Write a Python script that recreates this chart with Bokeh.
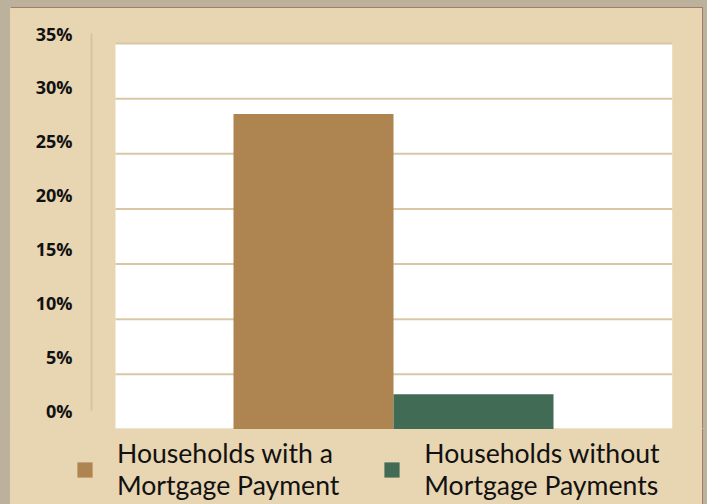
from bokeh.plotting import figure
from bokeh.models import (Range1d, LinearAxis, FixedTicker, Legend, LegendItem,
                          ColumnDataSource)
from bokeh.layouts import column
from bokeh.embed import file_html
from bokeh.resources import INLINE

# ---- data ----
categories = ["Households with a\nMortgage Payment",
              "Households without\nMortgage Payments"]
values = [28.6, 3.2]
colors = ["#AE8450", "#426B55"]
tick_values = [0, 5, 10, 15, 20, 25, 30, 35]
tick_labels = ["0%", "5%", "10%", "15%", "20%", "25%", "30%", "35%"]

# ---- layout constants ----
BEIGE = "#E8D5B1"
GRID = "#D8C8A6"
EDGE = "#A77A6E"
X_START, X_END = -0.8875, 2.74375
PANEL_LEFT = -0.7375
Y_MAX_AREA = 35

p = figure(width=692, height=421,
           x_range=Range1d(X_START, X_END), y_range=Range1d(0, 36.18),
           x_axis_location=None, y_axis_location=None,
           output_backend="svg", toolbar_location=None,
           min_border_left=81, min_border_right=30,
           min_border_top=22, min_border_bottom=0)
p.border_fill_color = BEIGE
p.background_fill_color = None
p.outline_line_color = None
p.grid.visible = False
p.frame_align = False
p.margin = (8, 5, 0, 10)
p.styles = {"background-color": BEIGE, "box-shadow": f"1px -1px 0 0 {EDGE}"}

# white plotting panel
p.quad(left=PANEL_LEFT, right=X_END, bottom=0, top=Y_MAX_AREA,
       fill_color="white", line_color=None)

# gridlines
n = len(tick_values)
p.segment(x0=[PANEL_LEFT] * n, x1=[X_END] * n, y0=tick_values, y1=tick_values,
          line_color=GRID, line_width=2)

# bars
xs = [i + 0.5 for i in range(len(categories))]
source = ColumnDataSource(dict(x=xs, top=values, color=colors, label=categories))
p.vbar(x="x", top="top", bottom=0, width=1, fill_color="color",
       line_color=None, source=source)

# y axis (separate scale, as in the original)
p.extra_y_ranges = {"axis": Range1d(-1.764, 35.28)}
ax = LinearAxis(y_range_name="axis", ticker=FixedTicker(ticks=tick_values),
                major_label_overrides={v: l for v, l in zip(tick_values, tick_labels)},
                bounds=(0, 35))
ax.axis_line_color = "#D6C5A2"
ax.axis_line_width = 2
ax.major_tick_line_color = None
ax.minor_tick_line_color = None
ax.major_tick_out = 0
ax.major_tick_in = 0
ax.major_label_standoff = 19
ax.major_label_text_font = "Open Sans"
ax.major_label_text_font_style = "bold"
ax.major_label_text_font_size = "18px"
ax.major_label_text_color = "#111111"
p.add_layout(ax, "left")

# ---- legend strip below the chart ----
p2 = figure(width=692, height=75, x_range=Range1d(0, 1), y_range=Range1d(100, 101),
            x_axis_location=None, y_axis_location=None,
            output_backend="svg", toolbar_location=None,
            min_border_left=0, min_border_right=0,
            min_border_top=0, min_border_bottom=0)
p2.border_fill_color = BEIGE
p2.background_fill_color = None
p2.outline_line_color = None
p2.grid.visible = False
p2.frame_align = False
p2.margin = (0, 5, 0, 10)
p2.styles = {"background-color": BEIGE, "box-shadow": f"1px 0 0 0 {EDGE}"}
r2 = p2.vbar(x="x", top="top", bottom=0, width=1, fill_color="color",
             line_color=None, source=source)

legend = Legend(items=[LegendItem(label=categories[i], renderers=[r2], index=i)
                       for i in range(len(categories))],
                orientation="horizontal", location=(65, 3),
                padding=0, margin=0, border_line_color=None,
                background_fill_alpha=0,
                label_text_font="Lato", label_text_font_size="26.6px",
                label_text_color="#111111", label_standoff=23,
                label_text_line_height=0.91,
                glyph_width=19, glyph_height=19, spacing=43)
p2.add_layout(legend, "center")

layout = column(p, p2, spacing=0, styles={"background-color": "#BCB29B"})

open("out.html", "w").write(file_html(layout, INLINE))
